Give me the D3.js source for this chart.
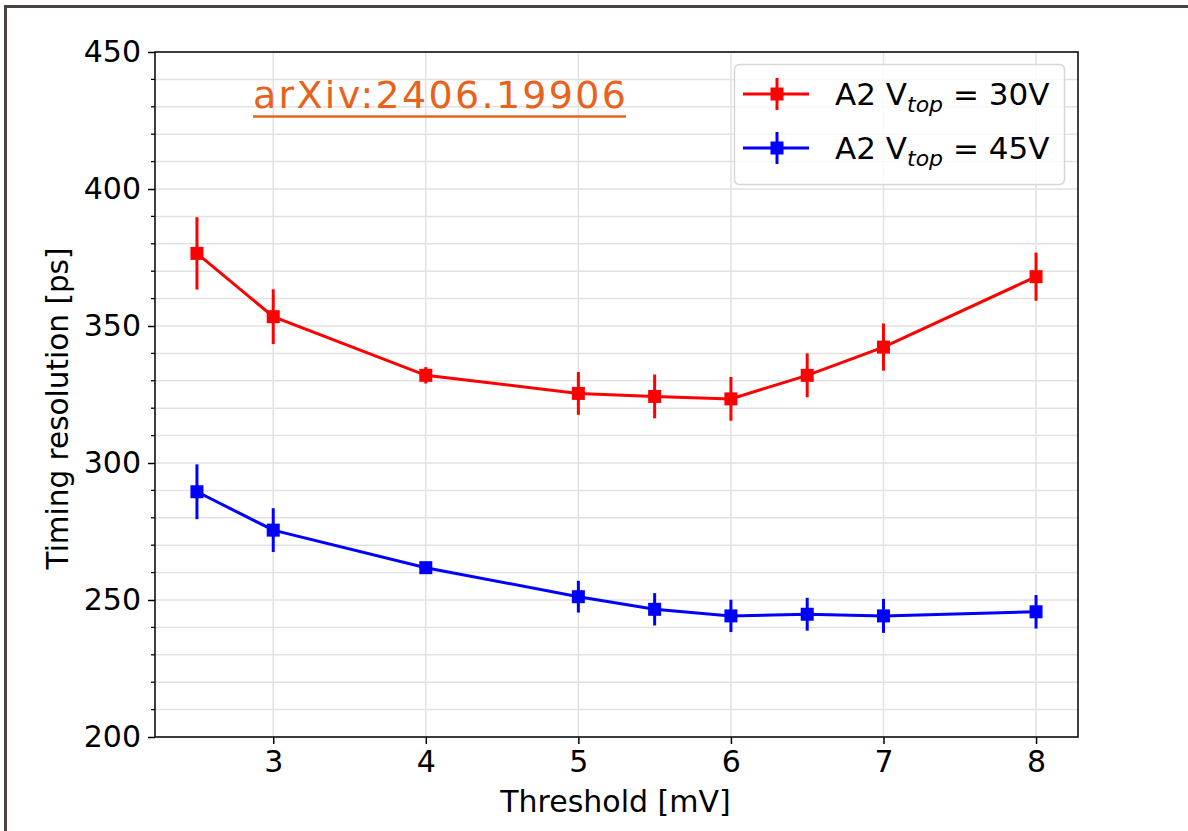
<!DOCTYPE html>
<html>
<head>
<meta charset="utf-8">
<script src="https://cdn.jsdelivr.net/npm/d3@7"></script>
<style>
  body { margin: 0; background: #fff; }
  svg { display: block; }
</style>
</head>
<body>
<div id="chart"></div>
<script>
// thresholds in mV
var thresholds = [2.5, 3, 4, 5, 5.5, 6, 6.5, 7, 8];

// timing resolution [ps] and error, Vtop = 30V
var res30 = [376.5, 353.4, 332.0, 325.4, 324.3, 323.4, 332.0, 342.3, 368.0];
var err30 = [13.2, 10.0, 3.0, 7.8, 8.0, 8.0, 8.0, 8.6, 8.8];

// Vtop = 45V
var res45 = [289.5, 275.5, 261.8, 251.2, 246.6, 244.2, 244.8, 244.2, 245.7];
var err45 = [10.0, 8.0, 2.0, 5.8, 5.9, 5.9, 6.0, 6.2, 6.1];

var xTicks = [3, 4, 5, 6, 7, 8];
var yTicks = [200, 250, 300, 350, 400, 450];
var yMinor = d3.range(200, 451, 10);

var seriesNames = ["30V", "45V"];
var seriesColors = ["#ff0000", "#0000ff"];

var W = 1188, H = 831;
var margin = { top: 52, right: 110, bottom: 94, left: 155 };
var width = W - margin.left - margin.right;
var height = H - margin.top - margin.bottom;

var svg = d3.select("#chart").append("svg")
    .attr("width", W)
    .attr("height", H);

// page frame (top and left edge only)
svg.append("path")
    .attr("d", "M5.5,831 L5.5,6.5 L1188,6.5")
    .attr("fill", "none")
    .attr("stroke", "#4b4341")
    .attr("stroke-width", 3);

var g = svg.append("g")
    .attr("transform", "translate(" + margin.left + "," + margin.top + ")");

// matplotlib style 5% margins on x
var x = d3.scaleLinear().domain([2.225, 8.275]).range([0, width]);
var y = d3.scaleLinear().domain([200, 450]).range([height, 0]);

// grid
g.append("g").selectAll("line")
    .data(yMinor)
    .enter().append("line")
    .attr("x1", 0).attr("x2", width)
    .attr("y1", function (d) { return y(d); })
    .attr("y2", function (d) { return y(d); })
    .attr("stroke", "#e2e2e2")
    .attr("stroke-width", 1.5);

g.append("g").selectAll("line")
    .data(xTicks)
    .enter().append("line")
    .attr("y1", 0).attr("y2", height)
    .attr("x1", function (d) { return x(d); })
    .attr("x2", function (d) { return x(d); })
    .attr("stroke", "#e2e2e2")
    .attr("stroke-width", 1.5);

// series
var allSeries = [
    { name: seriesNames[0], color: seriesColors[0], vals: res30, errs: err30 },
    { name: seriesNames[1], color: seriesColors[1], vals: res45, errs: err45 }
];

var line = d3.line()
    .x(function (d) { return x(d.t); })
    .y(function (d) { return y(d.v); });

var ms = 13;

allSeries.forEach(function (s) {
    var pts = thresholds.map(function (t, i) {
        return { t: t, v: s.vals[i], e: s.errs[i] };
    });
    var sg = g.append("g");

    sg.append("path")
        .datum(pts)
        .attr("fill", "none")
        .attr("stroke", s.color)
        .attr("stroke-width", 3)
        .attr("d", line);

    sg.selectAll("line.err")
        .data(pts)
        .enter().append("line")
        .attr("class", "err")
        .attr("x1", function (d) { return x(d.t); })
        .attr("x2", function (d) { return x(d.t); })
        .attr("y1", function (d) { return y(d.v + d.e); })
        .attr("y2", function (d) { return y(d.v - d.e); })
        .attr("stroke", s.color)
        .attr("stroke-width", 3);

    sg.selectAll("rect")
        .data(pts)
        .enter().append("rect")
        .attr("x", function (d) { return x(d.t) - ms / 2; })
        .attr("y", function (d) { return y(d.v) - ms / 2; })
        .attr("width", ms)
        .attr("height", ms)
        .attr("fill", s.color);
});

// axes
var xaxis = g.append("g")
    .attr("transform", "translate(0," + height + ")")
    .call(d3.axisBottom(x).tickValues(xTicks).tickSize(7).tickPadding(7).tickFormat(d3.format("d")));

var yaxis = g.append("g")
    .call(d3.axisLeft(y).tickValues(yTicks).tickSize(7).tickPadding(7));

g.append("g").selectAll("line")
    .data(yMinor.filter(function (d) { return d % 50 !== 0; }))
    .enter().append("line")
    .attr("x1", -4).attr("x2", 0)
    .attr("y1", function (d) { return y(d); })
    .attr("y2", function (d) { return y(d); })
    .attr("stroke", "#000")
    .attr("stroke-width", 1.3);

[xaxis, yaxis].forEach(function (ax) {
    ax.select(".domain").remove();
    ax.selectAll("line").attr("stroke", "#000").attr("stroke-width", 1.5);
    ax.selectAll("text")
        .attr("fill", "#000")
        .style("font-family", "DejaVu Sans")
        .style("font-size", "30px");
});

// frame of the axes
g.append("rect")
    .attr("width", width)
    .attr("height", height)
    .attr("fill", "none")
    .attr("stroke", "#111")
    .attr("stroke-width", 1.6);

// axis labels
svg.append("text")
    .attr("x", margin.left + width / 2 - 1)
    .attr("y", 812)
    .attr("text-anchor", "middle")
    .style("font-family", "DejaVu Sans")
    .style("font-size", "30px")
    .text("Threshold [mV]");

svg.append("text")
    .attr("transform", "translate(68," + (margin.top + height / 2 + 14) + ") rotate(-90)")
    .attr("text-anchor", "middle")
    .style("font-family", "DejaVu Sans")
    .style("font-size", "29.5px")
    .text("Timing resolution [ps]");

// arXiv tag
svg.append("text")
    .attr("x", 253)
    .attr("y", 108)
    .attr("fill", "#e8621c")
    .style("font-family", "DejaVu Sans")
    .style("font-size", "38px")
    .attr("textLength", 373)
    .text("arXiv:2406.19906");

svg.append("line")
    .attr("x1", 253).attr("x2", 626)
    .attr("y1", 116.5).attr("y2", 116.5)
    .attr("stroke", "#e8621c")
    .attr("stroke-width", 2.5);

// legend
var leg = svg.append("g");
leg.append("rect")
    .attr("x", 734.5).attr("y", 64.5)
    .attr("width", 330).attr("height", 120)
    .attr("rx", 5)
    .attr("fill", "rgba(255,255,255,0.8)")
    .attr("stroke", "#d6d6d6")
    .attr("stroke-width", 1.5);

allSeries.forEach(function (s, i) {
    var ly = 94 + i * 54;
    leg.append("line")
        .attr("x1", 743).attr("x2", 809)
        .attr("y1", ly).attr("y2", ly)
        .attr("stroke", s.color).attr("stroke-width", 3);
    leg.append("line")
        .attr("x1", 777).attr("x2", 777)
        .attr("y1", ly - 16).attr("y2", ly + 16)
        .attr("stroke", s.color).attr("stroke-width", 3);
    leg.append("rect")
        .attr("x", 777 - ms / 2).attr("y", ly - ms / 2)
        .attr("width", ms).attr("height", ms)
        .attr("fill", s.color);

    var t = leg.append("text")
        .attr("x", 835)
        .attr("y", ly + 11)
        .style("font-family", "DejaVu Sans")
        .style("font-size", "31px")
        .attr("fill", "#000");
    t.append("tspan").text("A2 V");
    t.append("tspan")
        .attr("dy", 7)
        .style("font-size", "22px")
        .style("font-style", "italic")
        .text("top");
    t.append("tspan")
        .attr("dy", -7)
        .text(" = " + s.name);
});
</script>
</body>
</html>
